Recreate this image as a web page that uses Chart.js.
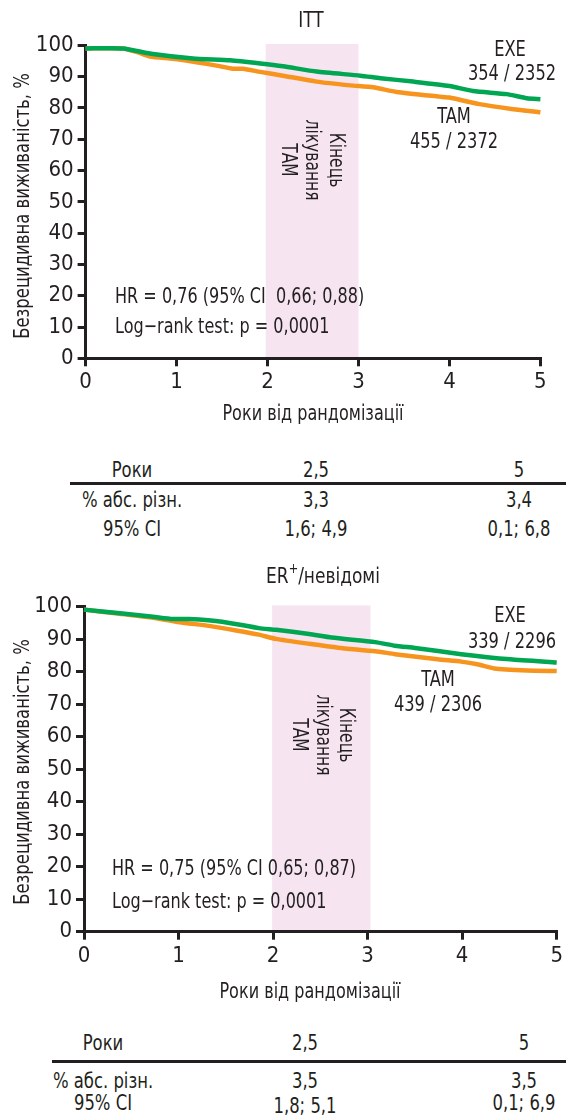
<!DOCTYPE html>
<html>
<head>
<meta charset="utf-8">
<script src="https://cdn.jsdelivr.net/npm/chart.js@4"></script>
<style>
  body { margin: 0; background: #fff; }
  #page { position: relative; width: 566px; height: 1117px; overflow: hidden; }
  canvas { position: absolute; left: 0; }
  .cell { position: absolute; transform: translate(-50%, -50%) scaleX(0.87); white-space: nowrap;
          font: 21px "Liberation Sans Narrow", "DejaVu Sans Condensed", sans-serif; color: #231f20; }
  .rule { position: absolute; height: 3px; background: #231f20; }
</style>
</head>
<body>
<div id="page">
  <canvas id="ittChart" style="top:0" width="566" height="440"></canvas>
  <canvas id="erChart" style="top:560px" width="566" height="450"></canvas>
</div>
<script>
// years from randomisation / disease-free survival, %
const ittExeYears = [0, 0.41, 0.74, 1.18, 1.59, 1.92, 2.17, 2.54, 3.02, 3.24, 3.60, 4.0, 4.26, 4.63, 4.85, 5.0];
const ittExeSurv  = [99.0, 99.0, 97.2, 95.8, 95.2, 94.2, 93.3, 91.6, 90.3, 89.5, 88.4, 87.0, 85.4, 84.4, 83.1, 82.8];
const ittTamYears = [0, 0.41, 0.56, 0.71, 0.96, 1.22, 1.44, 1.62, 1.73, 1.92, 2.17, 2.54, 2.91, 3.16, 3.42, 3.89, 4.0, 4.33, 4.70, 5.0];
const ittTamSurv  = [99.0, 99.0, 97.9, 96.4, 95.7, 94.6, 93.5, 92.5, 92.5, 91.5, 90.3, 88.4, 87.2, 86.6, 85.1, 83.6, 83.3, 81.2, 79.6, 78.6];

const erExeYears = [0, 0.38, 0.73, 0.94, 1.11, 1.46, 1.85, 2.03, 2.38, 2.62, 3.08, 3.29, 3.50, 3.99, 4.51, 5.0];
const erExeSurv  = [99.1, 98.0, 96.9, 96.2, 96.2, 95.4, 93.4, 92.9, 91.6, 90.5, 89.1, 88.0, 87.3, 85.4, 83.8, 82.8];
const erTamYears = [0, 0.38, 0.73, 1.01, 1.32, 1.61, 1.85, 2.03, 2.38, 2.69, 3.08, 3.29, 3.74, 3.99, 4.16, 4.34, 4.69, 5.0];
const erTamSurv  = [99.1, 97.8, 96.6, 95.2, 94.1, 92.7, 91.4, 90.1, 88.6, 87.4, 86.3, 85.4, 83.8, 83.1, 82.3, 81.0, 80.4, 80.2];

const ittBand = [1.98, 3.0];
const erBand = [1.99, 3.03];

const yTicks = [0, 10, 20, 30, 40, 50, 60, 70, 80, 90, 100];
const xTicks = [0, 1, 2, 3, 4, 5];

const tableHeader = ['Роки', '2,5', '5'];
const ittAbsDiff = ['% абс. різн.', '3,3', '3,4'];
const ittCI = ['95% CI', '1,6; 4,9', '0,1; 6,8'];
const erAbsDiff = ['% абс. різн.', '3,5', '3,5'];
const erCI = ['95% CI', '1,8; 5,1', '0,1; 6,9'];

const GREEN = '#00a651';
const ORANGE = '#f7941d';
const INK = '#231f20';
const BAND = '#f6e4f0';
const NARROW = '"Liberation Sans Narrow", "DejaVu Sans Condensed", sans-serif';

function pts(xs, ys) {
    return xs.map((x, i) => ({ x: x, y: ys[i] }));
}

// squeezed text, the original uses a condensed face
function squeezed(ctx, t, x, y, sx) {
    ctx.save();
    ctx.translate(x, y);
    ctx.scale(sx, 1);
    ctx.fillText(t, 0, 0);
    ctx.restore();
}

// text that isn't a tick: labels, stats, titles
function annotations(opts) {
    return {
        id: 'annotations',
        beforeDraw(chart) {
            const { ctx, scales: { x, y } } = chart;
            ctx.save();
            ctx.fillStyle = BAND;
            const x0 = x.getPixelForValue(opts.band[0]);
            const x1 = x.getPixelForValue(opts.band[1]);
            const yTop = y.getPixelForValue(100.4);
            const yBot = y.getPixelForValue(0);
            ctx.fillRect(x0, yTop, x1 - x0, yBot - yTop);
            ctx.restore();
        },
        afterDraw(chart) {
            const ctx = chart.ctx;
            ctx.save();
            ctx.fillStyle = INK;
            ctx.textBaseline = 'middle';

            // title (with optional superscript)
            ctx.textAlign = 'left';
            let w = 0;
            opts.title.forEach(p => {
                ctx.font = (p.sup ? '14px ' : '21px ') + NARROW;
                w += ctx.measureText(p.t).width * 0.9;
            });
            let tx = opts.titlePos[0] - w / 2;
            opts.title.forEach(p => {
                ctx.font = (p.sup ? '14px ' : '21px ') + NARROW;
                squeezed(ctx, p.t, tx, opts.titlePos[1] - (p.sup ? 9 : 0), 0.9);
                tx += ctx.measureText(p.t).width * 0.9;
            });

            ctx.font = '21px ' + NARROW;
            ctx.textAlign = 'center';
            opts.labels.forEach(l => squeezed(ctx, l.t, l.x, l.y, 0.86));

            ctx.textAlign = 'left';
            opts.stats.forEach(l => squeezed(ctx, l.t, l.x, l.y, 0.85));

            // rotated "end of TAM treatment" note inside the band
            ctx.save();
            ctx.translate(opts.note.x, opts.note.y);
            ctx.rotate(Math.PI / 2);
            ctx.textAlign = 'center';
            opts.note.lines.forEach((t, i) => squeezed(ctx, t, 0, (i - 1) * opts.note.gap, 0.82));
            ctx.restore();

            // axis titles
            ctx.textAlign = 'center';
            squeezed(ctx, 'Роки від рандомізації', opts.xTitle[0], opts.xTitle[1], 0.85);
            ctx.save();
            ctx.translate(opts.yTitle[0], opts.yTitle[1]);
            ctx.rotate(-Math.PI / 2);
            squeezed(ctx, 'Безрецидивна виживаність, %', 0, 0, 0.87);
            ctx.restore();

            ctx.restore();
        }
    };
}

function makeChart(canvasId, exe, tam, area, opts) {
    return new Chart(document.getElementById(canvasId), {
        type: 'line',
        data: {
            datasets: [
                { label: 'EXE', data: exe, borderColor: GREEN, borderWidth: 4.5, pointRadius: 0, tension: 0.2, clip: 6 },
                { label: 'TAM', data: tam, borderColor: ORANGE, borderWidth: 4.5, pointRadius: 0, tension: 0.2, clip: 6 }
            ]
        },
        options: {
            responsive: false,
            animation: false,
            layout: { padding: { top: area.top, right: area.right, bottom: area.bottom, left: 0 } },
            plugins: { legend: { display: false }, tooltip: { enabled: false } },
            scales: {
                x: {
                    type: 'linear', min: 0, max: 5,
                    afterFit: s => { s.height = 40; },
                    afterBuildTicks: s => { s.ticks = xTicks.map(v => ({ value: v })); },
                    border: { color: INK, width: 3 },
                    grid: { drawOnChartArea: false, drawTicks: true, tickLength: 8, color: INK, lineWidth: 3 },
                    ticks: { color: INK, padding: 3, font: { family: NARROW, size: 22 } }
                },
                y: {
                    min: 0, max: 100,
                    afterFit: s => { s.width = area.left; },
                    afterBuildTicks: s => { s.ticks = yTicks.map(v => ({ value: v })); },
                    border: { color: INK, width: 3 },
                    grid: { drawOnChartArea: false, drawTicks: true, tickLength: 8, color: INK, lineWidth: 3 },
                    ticks: { color: INK, padding: 4, font: { family: NARROW, size: 22 } }
                }
            }
        },
        plugins: [annotations(opts)]
    });
}

Chart.defaults.font.family = NARROW;

makeChart('ittChart', pts(ittExeYears, ittExeSurv), pts(ittTamYears, ittTamSurv),
    { top: 45.3, right: 25.6, bottom: 41.7, left: 85.6 },
    {
        band: ittBand,
        title: [{ t: 'ITT' }], titlePos: [311, 22],
        labels: [
            { t: 'EXE', x: 510, y: 51 }, { t: '354 / 2352', x: 512, y: 75 },
            { t: 'TAM', x: 454, y: 118 }, { t: '455 / 2372', x: 454, y: 143 }
        ],
        stats: [
            { t: 'HR = 0,76 (95% CI  0,66; 0,88)', x: 115, y: 298 },
            { t: 'Log\u2212rank test: p = 0,0001', x: 115, y: 328 }
        ],
        note: { x: 311, y: 160, gap: 24, lines: ['Кінець', 'лікування', 'ТАМ'] },
        xTitle: [313, 415], yTitle: [24, 206]
    });

makeChart('erChart', pts(erExeYears, erExeSurv), pts(erTamYears, erTamSurv),
    { top: 46.7, right: 6.4, bottom: 38.3, left: 84 },
    {
        band: erBand,
        title: [{ t: 'ER' }, { t: '+', sup: true }, { t: '/невідомі' }], titlePos: [323, 18],
        labels: [
            { t: 'EXE', x: 510, y: 57 }, { t: '339 / 2296', x: 512, y: 83 },
            { t: 'TAM', x: 438, y: 121 }, { t: '439 / 2306', x: 438, y: 146 }
        ],
        stats: [
            { t: 'HR = 0,75 (95% CI 0,65; 0,87)', x: 112, y: 310 },
            { t: 'Log\u2212rank test: p = 0,0001', x: 112, y: 343 }
        ],
        note: { x: 322, y: 175, gap: 23.5, lines: ['Кінець', 'лікування', 'ТАМ'] },
        xTitle: [310, 433], yTitle: [24, 212]
    });

// result tables under each chart
function addTable(rows, cols, rowY, rule) {
    const page = document.getElementById('page');
    rows.forEach((row, r) => {
        row.forEach((txt, c) => {
            const d = document.createElement('div');
            d.className = 'cell';
            d.textContent = txt;
            d.style.left = cols[c] + 'px';
            d.style.top = rowY[r][c] + 'px';
            page.appendChild(d);
        });
    });
    const line = document.createElement('div');
    line.className = 'rule';
    line.style.left = rule.x + 'px';
    line.style.top = rule.y + 'px';
    line.style.width = (566 - rule.x) + 'px';
    page.appendChild(line);
}

addTable([tableHeader, ittAbsDiff, ittCI], [132, 316, 519],
    [[470, 470, 470], [500, 500, 500], [529, 529, 529]], { x: 70, y: 482 });
addTable([tableHeader, erAbsDiff, erCI], [103, 305, 524],
    [[1043, 1043, 1043], [1081, 1081, 1081], [1103, 1106, 1103]], { x: 52, y: 1060 });
</script>
</body>
</html>
